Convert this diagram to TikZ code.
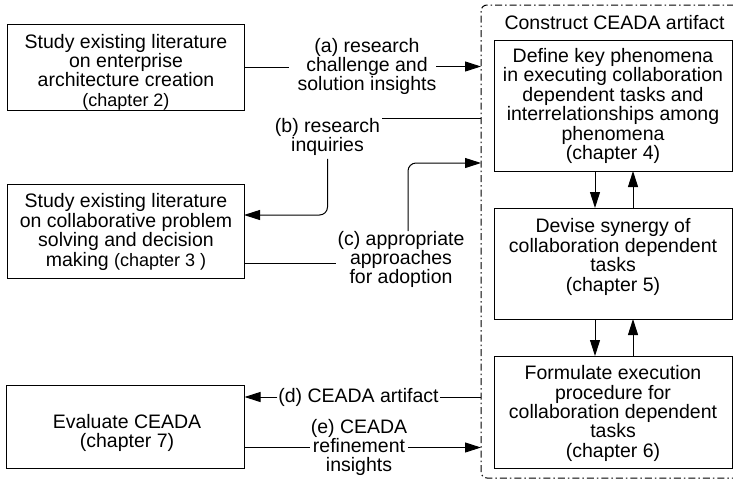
\documentclass[tikz,border=0pt]{standalone}
\usepackage{fontspec}
\setmainfont{Liberation Sans}
\usetikzlibrary{arrows.meta,calc}
\newcommand{\chapsmall}{\fontsize{18}{19.4}\selectfont}
\begin{document}
\begin{tikzpicture}[x=1pt,y=-1pt,
  every node/.style={font=\fontsize{19.5}{19.4}\selectfont, inner sep=0pt, outer sep=0pt},
  stepbox/.style={draw, line width=1pt, rectangle},
  txt/.style={align=center},
  conn/.style={line width=1pt},
  arr/.style={line width=1pt, -{Triangle[length=16pt,width=10pt]}},
  frame/.style={draw, line width=1pt, rounded corners=6pt,
    dash pattern=on 7pt off 3pt on 1.5pt off 3pt}
]
\useasboundingbox (0,0) rectangle (733,480);

% dash-dotted frame around the construction phase
\node[frame, minimum width=259pt, minimum height=473pt] (cont) at (610.5,241.5) {};
\node (ctit) at (614.5,23) {Construct CEADA artifact};

% left column: literature studies and evaluation
\node[stepbox, minimum width=237pt, minimum height=86pt] (b1) at (125.5,67) {};
\node[txt] (b1t) at (126,72) {Study existing literature\\on enterprise\\architecture creation\\{\chapsmall (chapter 2)}};

\node[stepbox, minimum width=237pt, minimum height=94pt] (b2) at (125.5,231) {};
\node[txt] (b2t) at (126,232) {Study existing literature\\on collaborative problem\\solving and decision\\making {\chapsmall (chapter 3 )}};

\node[stepbox, minimum width=238pt, minimum height=83pt] (b7) at (125.5,426.5) {};
\node[txt] (b7t) at (127,433) {Evaluate CEADA\\(chapter 7)};

% right column: construction steps
\node[stepbox, minimum width=238pt, minimum height=131pt] (b4) at (613,105.5) {};
\node[txt] (b4t) at (613,106) {Define key phenomena\\in executing collaboration\\dependent tasks and\\interrelationships among\\phenomena\\(chapter 4)};

\node[stepbox, minimum width=238pt, minimum height=111pt] (b5) at (613,263.5) {};
\node[txt] (b5t) at (613,257) {Devise synergy of\\collaboration dependent\\tasks\\(chapter 5)};

\node[stepbox, minimum width=238pt, minimum height=112pt] (b6) at (613,412) {};
\node[txt] (b6t) at (613,413.5) {Formulate execution\\procedure for\\collaboration dependent\\tasks\\(chapter 6)};

% connector labels
\node[txt] (la) at (367,66.5) {(a) research\\challenge and\\solution insights};
\node[txt] (lb) at (327.5,137) {(b) research\\inquiries};
\node[txt] (lc) at (401,259.5) {(c) appropriate\\approaches\\for adoption};
\node (ld) at (358.5,397) {(d) CEADA artifact};
\node[txt] (le) at (359,447.5) {(e) CEADA\\refinement\\insights};

% (a)
\draw[conn] (b1.east) -- ([xshift=-9pt]la.west |- b1.east);
\draw[arr] (la.east) -- (la.east -| cont.west);
% (b)
\draw[conn] (cont.west |- lb.north east) -- ([xshift=2pt]lb.north east);
\draw[arr, rounded corners=8pt] ([yshift=-3pt]lb.south) |- ([yshift=-31pt]b2.north east);
% (c)
\draw[conn] ([yshift=-3.5pt]lc.west -| b2.east) -- ([yshift=-3.5pt,xshift=-2pt]lc.west);
\draw[arr, rounded corners=8pt] ([xshift=7pt]lc.north) |- ([yshift=-158pt]cont.north west);
% (d)
\draw[conn] (cont.west |- ld.east) -- ([xshift=1pt]ld.east);
\draw[arr] ([xshift=-1pt]ld.west) -- (ld.west -| b7.east);
% (e)
\draw[conn] (b7.east |- le.west) -- ([xshift=-1pt]le.west);
\draw[arr] ([xshift=1pt]le.east) -- (le.east -| cont.west);

% feedback between construction steps
\draw[arr] ([xshift=-18pt]b4.south) -- ([xshift=-18pt]b5.north);
\draw[arr] ([xshift=20pt]b5.north) -- ([xshift=20pt]b4.south);
\draw[arr] ([xshift=-18pt]b5.south) -- ([xshift=-18pt]b6.north);
\draw[arr] ([xshift=20pt]b6.north) -- ([xshift=20pt]b5.south);
\end{tikzpicture}
\end{document}
